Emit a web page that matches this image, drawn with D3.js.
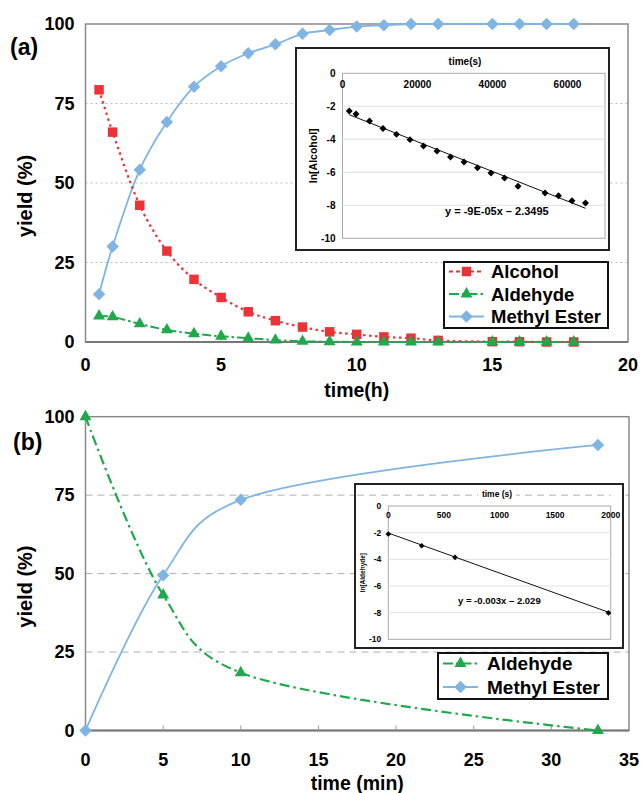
<!DOCTYPE html>
<html>
<head>
<meta charset="utf-8">
<script src="https://cdn.jsdelivr.net/npm/d3@7"></script>
<style>
  body { margin: 0; background: #fff; }
  text { font-family: "Liberation Sans", Arial, sans-serif; font-weight: bold; }
</style>
</head>
<body>
<div id="chart"></div>
<script>
// ---------------------------------------------------------------
// data

// (a) yields vs time in hours
let hoursA = [0.5, 1, 2, 3, 4, 5, 6, 7, 8, 9, 10, 11, 12, 13, 15, 16, 17, 18];
let alcoholA = [79.3, 66, 43, 28.6, 19.7, 14, 9.5, 6.7, 4.7, 3.2, 2.4, 1.6, 1.2, 0.5, 0.1, 0.1, 0, 0];
let aldehydeA = [8.2, 7.9, 5.7, 3.8, 2.6, 1.8, 1.2, 0.6, 0.2, 0.1, 0, 0, 0, 0, 0, 0, 0, 0];
let esterA = [15, 30, 54.2, 69.2, 80.3, 86.7, 90.8, 93.6, 96.9, 98.1, 99.2, 99.6, 100, 100, 100, 100, 100, 100];

// (a) inset: ln[Alcohol] vs time in seconds
let secondsA = [1800, 3600, 7200, 10800, 14400, 18000, 21600, 25200, 28800, 32400,
                36000, 39600, 43200, 46800, 54000, 57600, 61200, 64800];
let lnAlcohol = [-2.29, -2.47, -2.89, -3.35, -3.7, -4.02, -4.41, -4.71, -5.07, -5.38,
                 -5.72, -6.04, -6.35, -6.85, -7.25, -7.42, -7.72, -7.86];
let fitA = { slope: -9e-5, intercept: -2.3495, label: "y = -9E-05x \u2013 2.3495" };

// (b) yields vs time in minutes
let minutesB = [0, 5, 10, 33];
let aldehydeB = [100, 43.2, 18.4, 0];
let esterB = [0, 49.5, 73.5, 91];

// (b) inset: ln[Aldehyde] vs time in seconds
let secondsB = [0, 300, 600, 1980];
let lnAldehyde = [-2.1, -2.98, -3.85, -8.02];
let fitB = { slope: -0.003, intercept: -2.029, label: "y = -0.003x \u2013 2.029" };

let yieldTicks = [0, 25, 50, 75, 100];
let hourTicks = [0, 5, 10, 15, 20];
let minuteTicks = [0, 5, 10, 15, 20, 25, 30, 35];
let lnTicks = [0, -2, -4, -6, -8, -10];
let secTicksA = [0, 20000, 40000, 60000];
let secTicksB = [0, 500, 1000, 1500, 2000];

// ---------------------------------------------------------------
// styles

let red = "#ec3237", green = "#1fa84c", blue = "#80b4e2";

let svg = d3.select("#chart").append("svg")
  .attr("width", 642)
  .attr("height", 793);

// smoothing somewhere between uniform and centripetal catmull-rom
let smooth = d3.curveCatmullRom.alpha(0.25);

function marker(kind) {
  if (kind == "square") return d3.symbol().type(d3.symbolSquare).size(90)();
  if (kind == "triangle") return d3.symbol().type(d3.symbolTriangle).size(62)();
  return d3.symbol().type(d3.symbolSquare).size(78)();   // rotated below -> diamond
}

function drawSeries(g, x, y, xs, ys, s) {
  let pts = xs.map((t, i) => [t, ys[i]]);
  g.append("path")
    .datum(pts)
    .attr("fill", "none")
    .attr("stroke", s.color)
    .attr("stroke-width", s.width)
    .attr("stroke-dasharray", s.dash)
    .attr("d", d3.line().x(d => x(d[0])).y(d => y(d[1])).curve(smooth));
  g.selectAll(null)
    .data(pts)
    .enter()
    .append("path")
    .attr("d", marker(s.kind))
    .attr("fill", s.color)
    .attr("transform", d => "translate(" + x(d[0]) + "," + y(d[1]) + ")" +
                            (s.kind == "diamond" ? " rotate(45)" : ""));
}

function drawFrame(g, x, y, xTicks, gridDash, gridColor, tickY, titleY, title) {
  let x0 = x.range()[0], x1 = x.range()[1];
  g.selectAll(null)
    .data(yieldTicks.filter(v => v > 0 && v < 100))
    .enter()
    .append("line")
    .attr("x1", x0).attr("x2", x1)
    .attr("y1", d => y(d)).attr("y2", d => y(d))
    .attr("stroke", gridColor)
    .attr("stroke-dasharray", gridDash);
  g.append("rect")
    .attr("x", x0).attr("y", y(100))
    .attr("width", x1 - x0).attr("height", y(0) - y(100))
    .attr("fill", "none")
    .attr("stroke", "#8a8a8a")
    .attr("stroke-width", 1.5);
  g.append("line")
    .attr("x1", x0).attr("x2", x1)
    .attr("y1", y(0)).attr("y2", y(0))
    .attr("stroke", "#777").attr("stroke-width", 2);
  g.selectAll(null)
    .data(xTicks.slice(1, -1))
    .enter()
    .append("line")
    .attr("x1", d => x(d)).attr("x2", d => x(d))
    .attr("y1", y(0)).attr("y2", y(0) - 5)
    .attr("stroke", "#999");

  g.selectAll(null)
    .data(yieldTicks)
    .enter()
    .append("text")
    .attr("x", x0 - 11)
    .attr("y", d => y(d))
    .attr("dy", "0.35em")
    .attr("text-anchor", "end")
    .attr("font-size", 18)
    .text(d => d);
  g.selectAll(null)
    .data(xTicks)
    .enter()
    .append("text")
    .attr("x", d => x(d))
    .attr("y", tickY)
    .attr("dy", "0.35em")
    .attr("text-anchor", "middle")
    .attr("font-size", 18)
    .text(d => d);
  g.append("text")
    .attr("x", (x0 + x1) / 2)
    .attr("y", titleY)
    .attr("dy", "0.35em")
    .attr("text-anchor", "middle")
    .attr("font-size", 19.5)
    .text(title);
  let midY = (y(0) + y(100)) / 2 + 13;
  g.append("text")
    .attr("transform", "translate(25," + midY + ") rotate(-90)")
    .attr("dy", "0.35em")
    .attr("text-anchor", "middle")
    .attr("font-size", 20)
    .text("yield (%)");
}

function drawInset(g, box, x, y, xTicks, xs, ys, fit, o) {
  g.append("rect")
    .attr("x", box.x).attr("y", box.y)
    .attr("width", box.w).attr("height", box.h)
    .attr("fill", "#fff")
    .attr("stroke", "#222")
    .attr("stroke-width", 2);
  if (o.extra) o.extra(g);
  let x0 = x.range()[0], x1 = x.range()[1];
  g.append("rect")
    .attr("x", x0).attr("y", y(0))
    .attr("width", x1 - x0).attr("height", y(-10) - y(0))
    .attr("fill", "#fff")
    .attr("stroke", "#aaa");
  g.selectAll(null)
    .data(lnTicks.filter(v => v < 0 && v > -10))
    .enter()
    .append("line")
    .attr("x1", x0).attr("x2", x1)
    .attr("y1", d => y(d)).attr("y2", d => y(d))
    .attr("stroke", "#e2e2e2");
  g.selectAll(null)
    .data(lnTicks)
    .enter()
    .append("text")
    .attr("x", x0 - 7)
    .attr("y", d => y(d))
    .attr("dy", "0.35em")
    .attr("text-anchor", "end")
    .attr("font-size", o.tickSize)
    .text(d => d);
  g.selectAll(null)
    .data(xTicks)
    .enter()
    .append("text")
    .attr("x", d => x(d))
    .attr("y", y(0) + o.tickSize + 1)
    .attr("dy", "0.35em")
    .attr("text-anchor", "middle")
    .attr("font-size", o.tickSize)
    .text(d => d);
  g.append("text")
    .attr("x", o.titleX).attr("y", o.titleY)
    .attr("dy", "0.35em")
    .attr("text-anchor", "middle")
    .attr("font-size", o.tickSize)
    .text(o.xTitle);
  g.append("text")
    .attr("transform", "translate(" + o.yTitleX + "," + (y(0) + y(-10)) / 2 + ") rotate(-90)")
    .attr("dy", "0.35em")
    .attr("text-anchor", "middle")
    .attr("font-size", o.yTitleSize)
    .text(o.yTitle);

  let tA = xs[0], tB = xs[xs.length - 1];
  g.append("line")
    .attr("x1", x(tA)).attr("y1", y(fit.slope * tA + fit.intercept))
    .attr("x2", x(tB)).attr("y2", y(fit.slope * tB + fit.intercept))
    .attr("stroke", "#111").attr("stroke-width", 1);
  g.selectAll(null)
    .data(xs.map((t, i) => [t, ys[i]]))
    .enter()
    .append("path")
    .attr("d", d3.symbol().type(d3.symbolSquare).size(o.dot)())
    .attr("fill", "#000")
    .attr("transform", d => "translate(" + x(d[0]) + "," + y(d[1]) + ") rotate(45)");
  g.append("text")
    .attr("x", o.eqX).attr("y", o.eqY)
    .attr("dy", "0.35em")
    .attr("font-size", o.eqSize)
    .text(fit.label);
}

function drawLegend(g, box, items) {
  g.append("rect")
    .attr("x", box.x).attr("y", box.y)
    .attr("width", box.w).attr("height", box.h)
    .attr("fill", "#fff")
    .attr("stroke", "#111")
    .attr("stroke-width", 2);
  items.forEach((s, i) => {
    let cy = box.y + box.first + i * box.step;
    let sx = box.x + 5, ex = box.x + 40;
    g.append("line")
      .attr("x1", sx).attr("x2", ex)
      .attr("y1", cy).attr("y2", cy)
      .attr("stroke", s.color)
      .attr("stroke-width", s.width)
      .attr("stroke-dasharray", s.legendDash);
    g.append("path")
      .attr("d", marker(s.kind))
      .attr("fill", s.color)
      .attr("transform", "translate(" + (sx + ex) / 2 + "," + cy + ")" +
                         (s.kind == "diamond" ? " rotate(45)" : ""));
    g.append("text")
      .attr("x", box.x + box.textDx)
      .attr("y", cy)
      .attr("dy", "0.36em")
      .attr("font-size", box.font)
      .text(s.name);
  });
}

// ---------------------------------------------------------------
// panel (a)

let xA = d3.scaleLinear().domain([0, 20]).range([85.5, 628]);
let yA = d3.scaleLinear().domain([0, 100]).range([342, 24]);
let gA = svg.append("g");

drawFrame(gA, xA, yA, hourTicks, "2,3", "#bdbdbd", 365, 390, "time(h)");

let sAlcohol = { name: "Alcohol", color: red, width: 2.2, dash: "2.5,3.5", legendDash: "4,3", kind: "square" };
let sAldA = { name: "Aldehyde", color: green, width: 2, dash: "9,3,2.5,3", legendDash: "10,3,2.5,3", kind: "triangle" };
let sEster = { name: "Methyl Ester", color: blue, width: 1.8, dash: null, legendDash: null, kind: "diamond" };

drawSeries(gA, xA, yA, hoursA, esterA, sEster);
drawSeries(gA, xA, yA, hoursA, alcoholA, sAlcohol);
drawSeries(gA, xA, yA, hoursA, aldehydeA, sAldA);

let ixA = d3.scaleLinear().domain([0, 70000]).range([342.5, 605]);
let iyA = d3.scaleLinear().domain([-10, 0]).range([238.3, 73.3]);
drawInset(gA, { x: 296, y: 48, w: 313, h: 202 }, ixA, iyA, secTicksA, secondsA, lnAlcohol, fitA, {
  tickSize: 10, xTitle: "time(s)", titleX: 465, titleY: 61,
  yTitle: "ln[Alcohol]", yTitleX: 313, yTitleSize: 10.5,
  dot: 24, eqX: 445, eqY: 211, eqSize: 11
});

drawLegend(gA, { x: 444, y: 262, w: 164, h: 66, first: 9.5, step: 22.5, textDx: 47, font: 18.5 },
           [sAlcohol, sAldA, sEster]);

gA.append("text")
  .attr("x", 10).attr("y", 47)
  .attr("dy", "0.35em")
  .attr("font-size", 23)
  .text("(a)");

// ---------------------------------------------------------------
// panel (b)

let xB = d3.scaleLinear().domain([0, 35]).range([85.5, 629]);
let yB = d3.scaleLinear().domain([0, 100]).range([730.5, 416.7]);
let gB = svg.append("g");

drawFrame(gB, xB, yB, minuteTicks, "7,5", "#b0b0b0", 760, 783, "time (min)");

let sAldB = { name: "Aldehyde", color: green, width: 2.2, dash: "10,4,2.5,4", legendDash: "10,3,2.5,3", kind: "triangle" };

drawSeries(gB, xB, yB, minutesB, esterB, sEster);
drawSeries(gB, xB, yB, minutesB, aldehydeB, sAldB);

let ixB = d3.scaleLinear().domain([0, 2000]).range([388.3, 610.7]);
let iyB = d3.scaleLinear().domain([-10, 0]).range([639.3, 506]);
drawInset(gB, { x: 355, y: 484, w: 268, h: 164 }, ixB, iyB, secTicksB, secondsB, lnAldehyde, fitB, {
  tickSize: 8.5, xTitle: "time (s)", titleX: 497, titleY: 494,
  yTitle: "ln[Aldehyde]", yTitleX: 363, yTitleSize: 6.5,
  dot: 16, eqX: 458, eqY: 601, eqSize: 9.5,
  // the 75% gridline shows through the inset's title band
  extra: function(g) {
    g.append("line")
      .attr("x1", 357).attr("x2", 610.7)
      .attr("y1", yB(75)).attr("y2", yB(75))
      .attr("stroke", "#b0b0b0")
      .attr("stroke-dasharray", "7,5");
    g.append("rect")
      .attr("x", 478).attr("y", 488)
      .attr("width", 38).attr("height", 13)
      .attr("fill", "#fff");
  }
});

drawLegend(gB, { x: 438, y: 653, w: 170, h: 46, first: 10.5, step: 23.5, textDx: 49, font: 19 },
           [sAldB, sEster]);

gB.append("text")
  .attr("x", 13).attr("y", 442)
  .attr("dy", "0.35em")
  .attr("font-size", 23)
  .text("(b)");
</script>
</body>
</html>
